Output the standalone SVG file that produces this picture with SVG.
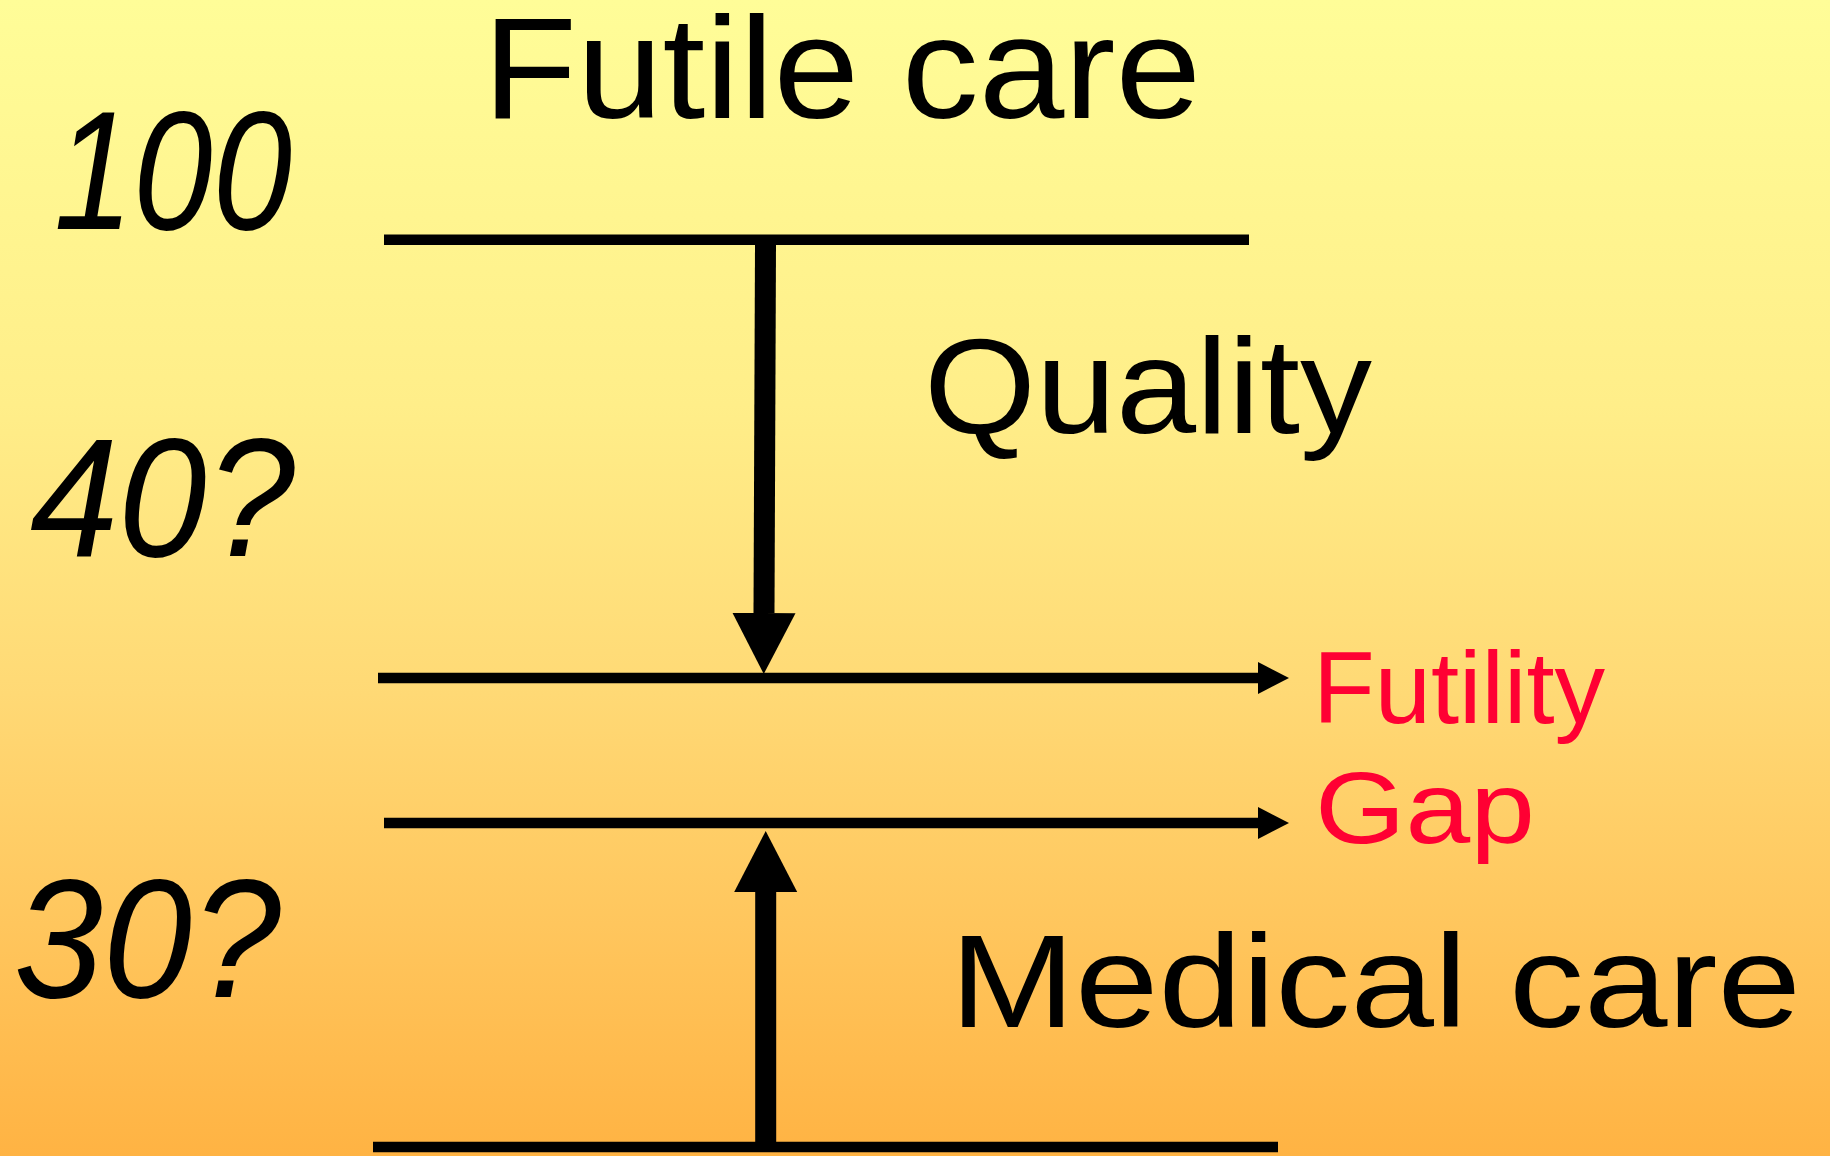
<svg xmlns="http://www.w3.org/2000/svg" width="1830" height="1156" viewBox="0 0 1830 1156">
  <style>
    .lbl { font-family: "Liberation Sans", Arial, sans-serif; fill: #000000; }
    .num { font-family: "Liberation Sans", Arial, sans-serif; font-style: italic; font-size: 168px; fill: #000000; }
    .red { font-family: "Liberation Sans", Arial, sans-serif; fill: #FF0033; font-size: 102px; }
    .level { stroke: #000000; stroke-width: 10.5; fill: none; }
    .big { stroke: #000000; stroke-width: 21; fill: none; }
  </style>
  <defs>
    <linearGradient id="bg" x1="0" y1="0" x2="0" y2="1">
      <stop offset="0" stop-color="#FFFD98"/>
      <stop offset="0.35" stop-color="#FFEE89"/>
      <stop offset="0.6" stop-color="#FFD975"/>
      <stop offset="0.8" stop-color="#FFC65D"/>
      <stop offset="1" stop-color="#FFB343"/>
    </linearGradient>
    <marker id="smallHead" markerUnits="userSpaceOnUse" viewBox="0 -16 31 32" markerWidth="31" markerHeight="32" refX="0" refY="0" orient="auto">
      <path d="M0,-16 L31,0 L0,16 Z" fill="#000000"/>
    </marker>
    <marker id="bigHead" markerUnits="userSpaceOnUse" viewBox="0 -32 61 64" markerWidth="61" markerHeight="64" refX="0" refY="0" orient="auto">
      <path d="M0,-31.5 L61,0 L0,31.5 Z" fill="#000000"/>
    </marker>
  </defs>
  <rect x="0" y="0" width="1830" height="1156" fill="url(#bg)"/>

  <g id="levels">
    <line id="level-100" class="level" x1="384" y1="239.7" x2="1249" y2="239.7"/>
    <line id="level-bottom" class="level" x1="373" y1="1147" x2="1278" y2="1147"/>
  </g>

  <g id="connectors">
    <line id="futility-line" class="level" x1="378" y1="678" x2="1258" y2="678" marker-end="url(#smallHead)"/>
    <line id="gap-line" class="level" x1="384" y1="823" x2="1258" y2="823" marker-end="url(#smallHead)"/>
    <line id="quality-arrow" class="big" x1="765.5" y1="245" x2="764" y2="613" marker-end="url(#bigHead)"/>
    <line id="medical-arrow" class="big" x1="765.7" y1="1147" x2="765.7" y2="892" marker-end="url(#bigHead)"/>
  </g>

  <g id="node-futile-care">
    <text class="lbl" x="483" y="118" font-size="144" textLength="718" lengthAdjust="spacingAndGlyphs">Futile care</text>
  </g>
  <g id="node-quality">
    <text class="lbl" x="924" y="433" font-size="136" textLength="448" lengthAdjust="spacingAndGlyphs">Quality</text>
  </g>
  <g id="node-medical-care">
    <text class="lbl" x="950" y="1027" font-size="131" textLength="851" lengthAdjust="spacingAndGlyphs">Medical care</text>
  </g>
  <g id="node-futility">
    <text class="red" x="1313" y="723" textLength="292" lengthAdjust="spacingAndGlyphs">Futility</text>
  </g>
  <g id="node-gap">
    <text class="red" x="1315" y="843" textLength="220" lengthAdjust="spacingAndGlyphs">Gap</text>
  </g>
  <g id="node-100">
    <text class="num" x="54" y="229" textLength="238" lengthAdjust="spacingAndGlyphs">100</text>
  </g>
  <g id="node-40">
    <text class="num" x="30" y="556" textLength="265" lengthAdjust="spacingAndGlyphs">40?</text>
  </g>
  <g id="node-30">
    <text class="num" x="14" y="997" textLength="267" lengthAdjust="spacingAndGlyphs">30?</text>
  </g>
</svg>
